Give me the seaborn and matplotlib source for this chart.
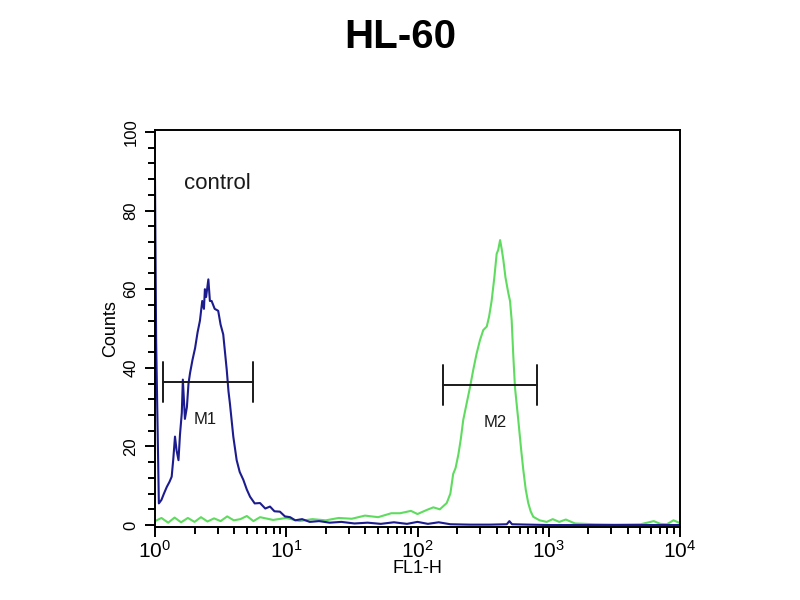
import matplotlib
matplotlib.use("Agg")
import matplotlib.pyplot as plt
import seaborn as sns
import numpy as np
import pandas as pd
from matplotlib.ticker import MultipleLocator, LogLocator, NullFormatter

# ---- data ----
blue_x = [1.00, 1.02, 1.07, 1.12, 1.17, 1.23, 1.29, 1.34, 1.38, 1.42, 1.46, 1.51, 1.55, 1.60,
          1.63, 1.69, 1.75, 1.80, 1.85, 1.93, 2.02, 2.11, 2.20, 2.29, 2.36, 2.40, 2.45, 2.55,
          2.62, 2.70, 2.85, 3.03, 3.16, 3.31, 3.52, 3.63, 3.72, 3.95, 4.19, 4.42, 4.71, 5.01,
          5.30, 5.75, 6.31, 6.92, 7.52, 8.13, 8.95, 9.77, 10.7, 11.7, 13.2, 15.1, 17.8, 21.4,
          26.3, 33.1, 41.7, 52.5, 66.1, 83.2, 100, 120, 145, 178, 251, 355, 479, 501, 525,
          708, 1000, 3162, 10000]
blue_y = [88, 47, 5.5, 6.4, 8, 9.7, 11, 12.3, 17, 22.5, 19, 16.5, 23, 28.5,
          37, 27, 30, 36, 38.7, 42, 45, 49, 52, 57, 55, 60, 58, 62.5,
          57, 57, 55, 54.5, 51, 48.5, 39.5, 34, 31, 22.5, 16.5, 13.5, 11.5, 9,
          7.2, 5.5, 5.6, 4.2, 4.7, 3.5, 3.4, 2.2, 2.0, 1.2, 1.5, 0.8, 1.0, 0.6,
          0.8, 0.4, 0.6, 0.3, 0.7, 0.3, 0.8, 0.3, 0.7, 0.2, 0.1, 0.1, 0.2, 1.0, 0.2,
          0.1, 0.0, 0.0, 0.0]

green_x = [1.00, 1.12, 1.26, 1.41, 1.58, 1.78, 2.00, 2.24, 2.51, 2.82, 3.16, 3.55, 3.98, 4.47,
           5.01, 5.62, 6.31, 7.94, 10.0, 12.6, 15.8, 20.0, 25.1, 31.6, 39.8, 50.1, 63.1, 73.6,
           89.1, 100, 117, 132, 148, 167, 178, 187, 195, 205, 214, 223, 237, 251, 266, 282,
           299, 317, 337, 351, 367, 385, 401, 412, 426, 439, 451, 468, 492, 507, 522, 537,
           553, 586, 617, 640, 668, 698, 728, 762, 851, 964, 1072, 1202, 1349, 1585, 2239,
           3162, 5012, 6310, 7079, 7943, 8913, 10000]
green_y = [1.0, 1.8, 0.6, 1.9, 0.7, 1.8, 0.8, 2.0, 0.9, 1.7, 1.0, 2.2, 1.2, 1.5,
           2.3, 1.0, 2.0, 1.3, 1.8, 1.0, 1.5, 1.2, 1.8, 1.6, 2.4, 2.0, 3.0, 3.0,
           3.6, 2.8, 3.8, 4.5, 4.0, 5.6, 8, 13, 14.5, 18, 22, 26.7, 31, 35, 39.5, 43.6,
           47, 49.6, 50.5, 53, 57, 63, 69, 70, 72.5, 70, 67.4, 63, 59, 57, 52, 43,
           35, 26.7, 19, 14, 9, 5.6, 3.5, 2.1, 1.2, 0.8, 1.5, 0.8, 1.4, 0.4, 0.2,
           0.1, 0.2, 1.0, 0.3, 0.2, 1.2, 0.5]

marker_names = ["M1", "M2"]
marker_lo = [1.15, 157]
marker_hi = [5.58, 809]
marker_level = [36.4, 35.6]
marker_label_x = [2.4, 390]

y_ticks = [0, 20, 40, 60, 80, 100]
x_ticks = [1, 10, 100, 1000, 10000]
x_tick_labels = [r"$10^{0}$", r"$10^{1}$", r"$10^{2}$", r"$10^{3}$", r"$10^{4}$"]

# ---- drawing ----
sns.set_style("white")
plt.rcParams["font.family"] = ["Liberation Sans", "DejaVu Sans"]
plt.rcParams["mathtext.fontset"] = "custom"
plt.rcParams["mathtext.rm"] = "Liberation Sans"
plt.rcParams["mathtext.it"] = "Liberation Sans"
plt.rcParams["text.color"] = "black"
plt.rcParams["axes.labelcolor"] = "black"
plt.rcParams["xtick.color"] = "black"
plt.rcParams["ytick.color"] = "black"

fig = plt.figure(figsize=(8, 6), dpi=100)
ax = fig.add_axes([155 / 800, (600 - 527) / 600, 525 / 800, (527 - 130) / 600])

green_df = pd.DataFrame({"x": green_x, "y": green_y})
blue_df = pd.DataFrame({"x": blue_x, "y": blue_y})
sns.lineplot(data=green_df, x="x", y="y", ax=ax, color="#5fdc5f", lw=1.5,
             sort=False, estimator=None)
sns.lineplot(data=blue_df, x="x", y="y", ax=ax, color="#1c1c8e", lw=1.5,
             sort=False, estimator=None)

ax.set_xscale("log")
ax.set_xlim(1, 10000)
ax.set_ylim(-0.5, 100.5)

# markers
for name, lo, hi, lvl, lx in zip(marker_names, marker_lo, marker_hi, marker_level, marker_label_x):
    ax.plot([lo, hi], [lvl, lvl], color="#1a1a1a", lw=1.4)
    ax.plot([lo, lo], [lvl - 5, lvl + 5], color="#1a1a1a", lw=1.4)
    ax.plot([hi, hi], [lvl - 5, lvl + 5], color="#1a1a1a", lw=1.4)
    ax.text(lx, lvl - 9.5, name, ha="center", va="center", fontsize=12, color="#1a1a1a")

ax.text(1.65, 87, "control", fontsize=16, color="#1a1a1a", ha="left", va="center")

# ticks
ax.set_yticks(y_ticks)
ax.set_yticklabels([str(t) for t in y_ticks], rotation=90, va="center", fontsize=12)
ax.yaxis.set_minor_locator(MultipleLocator(4))
ax.set_xticks(x_ticks)
ax.set_xticklabels(x_tick_labels, fontsize=15)
ax.xaxis.set_minor_locator(LogLocator(base=10, subs=np.arange(2, 10)))
ax.xaxis.set_minor_formatter(NullFormatter())
ax.tick_params(axis="both", which="major", direction="out", length=7, width=1.4,
               left=True, bottom=True)
ax.tick_params(axis="both", which="minor", direction="out", length=5, width=1.4,
               left=True, bottom=True)
ax.tick_params(axis="y", pad=5)
ax.tick_params(axis="x", pad=2)

for s in ax.spines.values():
    s.set_color("black")
    s.set_linewidth(1.4)

ax.set_xlabel("FL1-H", fontsize=13, labelpad=-1)
ax.set_ylabel("Counts", fontsize=13, labelpad=3)

fig.suptitle("HL-60", fontsize=29, fontweight="bold", color="black", y=0.97)

fig.savefig("out.png", dpi=100)
